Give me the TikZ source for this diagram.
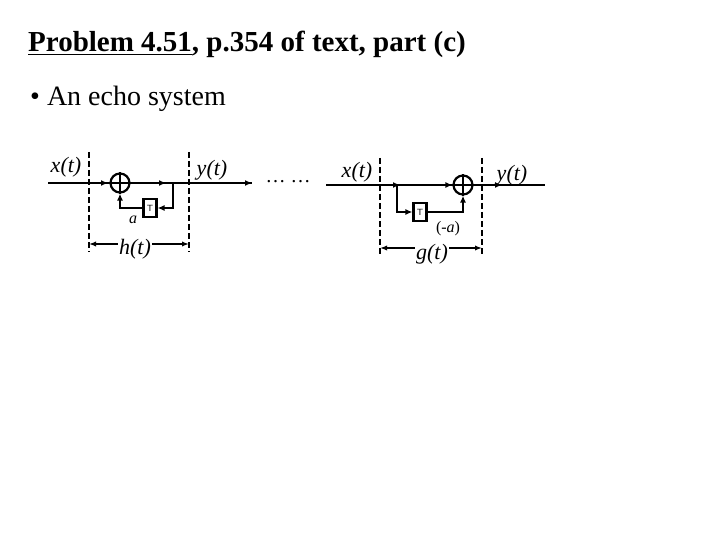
\documentclass[tikz,border=0pt]{standalone}
\usepackage{fontspec}
\setmainfont{Liberation Serif}
\usetikzlibrary{arrows.meta}
\begin{document}
\begin{tikzpicture}[x=1pt,y=-1pt,
 sig/.style={line width=2.2pt},
 arr/.style={sig,-{Latex[length=7pt,width=6pt]}},
 dashline/.style={line width=1.2pt,dash pattern=on 6pt off 3pt},
 sumc/.style={circle,draw,line width=2.2pt,minimum size=19pt,inner sep=0pt},
 tbox/.style={draw,line width=2.2pt,minimum width=13pt,minimum height=18pt,inner sep=0pt,font=\sffamily\small},
 dim/.style={line width=1.4pt,{Latex[length=7pt]}-{Latex[length=7pt]}},
 lab/.style={font=\fontsize{22}{24}\selectfont\itshape}]
\useasboundingbox (0,0) rectangle (720,540);
\node[anchor=base west,font=\bfseries\fontsize{29}{32}\selectfont,inner sep=0pt] (title) at (28,52) {\underline{Problem 4.51}, p.354 of text, part (c)};
\node[anchor=base west,font=\fontsize{28}{32}\selectfont,inner sep=0pt] (bul) at (30,106) {\textbullet\ An echo system};
% left system
\coordinate (L0) at (48,183); \coordinate (L1) at (252,183);
\node[sumc] (s1) at (120,183) {};
\draw[sig] (s1.north) -- (s1.south) (s1.west) -- (s1.east);
\node[tbox] (t1) at (150,208) {T};
\coordinate (tap1) at (173,183);
\draw[sig] (L0) -- (s1.west); \draw[arr] (L0) -- ++(60,0);
\draw[sig] (s1.east) -- (L1); \draw[arr] (s1.east) -- (166,183);
\draw[arr] (L0) ++(140,0) -- (L1);
\draw[arr] (tap1) |- (t1.east);
\draw[arr] (t1.west) -| (s1.south);
\draw[dashline] (89,152) -- (89,252) (189,152) -- (189,252);
\node[lab] (x1) at (66,167) {x(t)};
\node[lab] (y1) at (212,170) {y(t)};
\node[font=\itshape\fontsize{16}{18}\selectfont] (a1) at (133,220) {a};
\draw[dim] (89,244) -- (189,244);
\node[lab,fill=white,inner sep=1pt] (h1) at (135,249) {h(t)};
\node[font=\fontsize{20}{22}\selectfont] (dots) at (288,182) {\dots\ \dots};
% right system
\coordinate (R0) at (326,185); \coordinate (R1) at (545,185);
\node[sumc] (s2) at (463,185) {};
\draw[sig] (s2.north) -- (s2.south) (s2.west) -- (s2.east);
\node[tbox] (t2) at (420,212) {T};
\coordinate (br) at (397,185);
\draw[sig] (R0) -- (s2.west); \draw[arr] (R0) -- (400,185); \draw[arr] (br) -- (s2.west);
\draw[sig] (s2.east) -- (R1); \draw[arr] (s2.east) -- (502,185);
\draw[arr] (br) |- (t2.west);
\draw[arr] (t2.east) -| (s2.south);
\draw[dashline] (380,158) -- (380,256) (482,158) -- (482,256);
\node[lab] (x2) at (357,172) {x(t)};
\node[lab] (y2) at (512,175) {y(t)};
\node[font=\fontsize{16}{18}\selectfont] (a2) at (448,229) {(-\textit{a})};
\draw[dim] (380,248) -- (482,248);
\node[lab,fill=white,inner sep=1pt] (g2) at (432,254) {g(t)};
\end{tikzpicture}
\end{document}
